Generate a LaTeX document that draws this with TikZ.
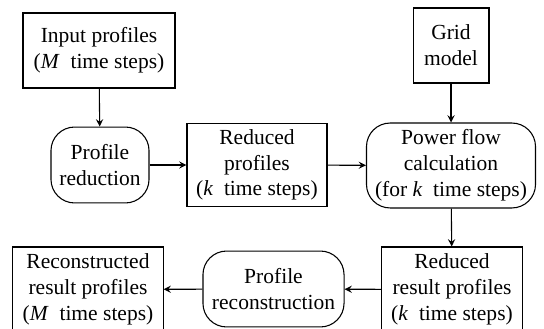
\documentclass[tikz,border=0pt]{standalone}
\usepackage{fontspec}
\setmainfont{Liberation Serif}
\usepackage{tikz}

\begin{document}
\begin{tikzpicture}[x=0.465pt,y=-0.465pt]
        \useasboundingbox (0,0) rectangle (544,329);
        \begin{scope}[every node/.style={draw, line width=0.5pt, align=center, inner sep=1pt}]
                \node [minimum width=70.7pt, minimum height=34.9pt] (input) at (99,50.5) {Input profiles\\(\textit{M}\ \ time steps)};
                \node [rounded corners=11pt, minimum width=45.6pt, minimum height=35.3pt] (red) at (100,165) {Profile\\reduction};
                \node [minimum width=65.1pt, minimum height=39pt] (redprof) at (257,165) {Reduced\\profiles\\(\textit{k}\ \ time steps)};
                \node [minimum width=35.3pt, minimum height=34.9pt] (grid) at (451,45.5) {Grid\\model};
                \node [rounded corners=11pt, minimum width=78.6pt, minimum height=39.5pt] (pf) at (451,165.5) {Power flow\\calculation\\(for \textit{k}\ \ time steps)};
                \node [minimum width=65.6pt, minimum height=39.5pt] (redres) at (452,289.5) {Reduced\\result profiles\\(\textit{k}\ \ time steps)};
                \node [rounded corners=11pt, minimum width=65.6pt, minimum height=35.3pt] (recon) at (273.5,289) {Profile\\reconstruction};
                \node [minimum width=69.8pt, minimum height=39.5pt] (recres) at (88,289.5) {Reconstructed\\result profiles\\(\textit{M}\ \ time steps)};
        \end{scope}

        \begin{scope}[every path/.style={line width=0.5pt, ->, >=stealth}]
                \path (input) edge (red);
                \path (red) edge (redprof);
                \path (redprof) edge (pf);
                \path (grid) edge (pf);
                \path (pf) edge (redres);
                \path (redres) edge (recon);
                \path (recon) edge (recres);
        \end{scope}
\end{tikzpicture}
\end{document}
